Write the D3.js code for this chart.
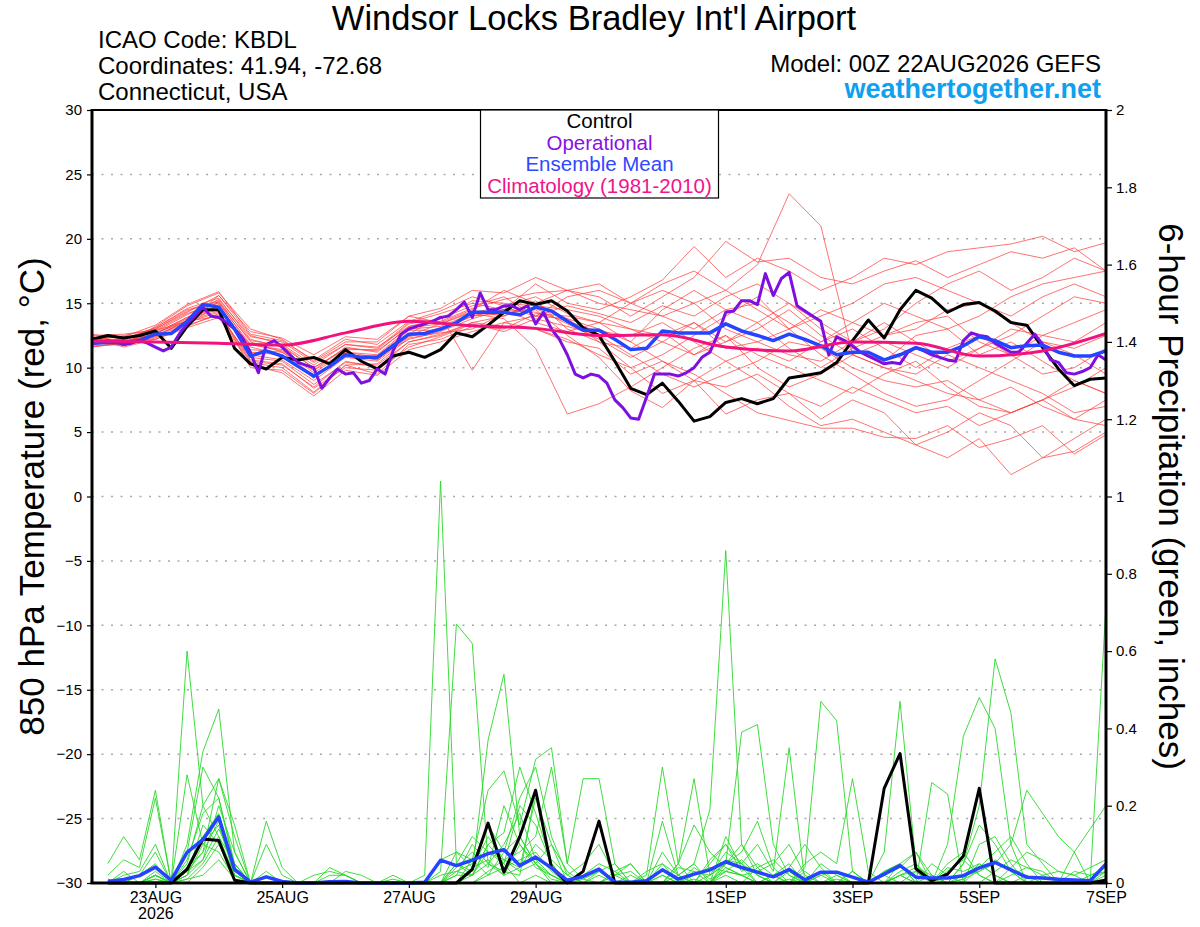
<!DOCTYPE html>
<html lang="en">
<head>
<meta charset="utf-8">
<title>Windsor Locks Bradley Int'l Airport</title>
<script src="https://cdn.jsdelivr.net/npm/d3@7"></script>
<style>
  body { margin: 0; background: #fff; }
  svg { display: block; font-family: "Liberation Sans", Arial, Helvetica, sans-serif; }
</style>
</head>
<body>
<svg id="chart" width="1200" height="927"></svg>
<script>
// --- data -------------------------------------------------------------
// 850 hPa temperature (deg C), 6-hourly from 00Z 22AUG2026
const tempCtrl = [12.2,12.5,12.3,12.5,12.85,11.5,13.2,14.5,14.5,11.5,
  10.3,9.9,10.8,10.6,10.8,10.3,11.4,10.5,9.9,10.9,
  11.2,10.8,11.4,12.7,12.4,13.3,14.3,15.2,14.9,15.2,
  14.4,13.1,12.5,10.5,8.4,7.9,8.8,7.4,5.85,6.2,
  7.3,7.6,7.2,7.6,9.2,9.4,9.6,10.4,12.1,13.7,
  12.3,14.5,16.0,15.4,14.3,14.9,15.05,14.4,13.5,13.3,
  11.55,9.9,8.6,9.1,9.2];

const tempMean = [11.9,11.95,11.95,12.1,12.6,12.65,13.6,14.9,14.7,13.0,
  10.9,11.3,10.9,10.1,9.35,10.1,11.0,10.8,10.8,11.7,
  12.6,12.65,13.0,13.5,14.3,14.3,14.3,14.1,14.7,14.4,
  13.6,12.9,12.9,12.2,11.4,11.5,12.85,12.7,12.7,12.7,
  13.4,12.85,12.5,12.1,12.6,12.2,11.7,11.0,11.2,11.2,
  10.6,11.0,11.55,11.2,11.2,11.7,12.4,12.1,11.55,11.7,
  11.75,11.2,10.9,10.9,11.3];

// operational run, 3-hourly
const tempOper = [11.9,12.0,12.1,12.0,11.8,11.9,12.1,11.9,11.6,11.3,
  11.6,12.6,13.4,14.0,14.7,14.0,13.9,13.5,13.0,12.3,
  11.2,9.6,11.8,12.1,11.6,11.0,10.4,10.2,10.0,8.4,
  9.2,9.9,9.5,9.6,8.8,9.0,9.9,9.5,11.3,12.6,
  13.0,13.2,13.4,13.6,13.9,14.0,14.5,15.1,13.9,15.8,
  14.5,14.5,14.8,14.8,14.5,14.8,13.4,14.3,13.0,12.2,
  11.0,9.5,9.2,9.5,9.35,8.8,7.5,6.9,6.1,6.0,
  7.7,9.5,9.5,9.5,9.35,9.6,10.0,10.8,11.2,12.6,
  14.3,14.4,15.2,15.2,14.9,17.3,15.6,16.9,17.4,14.8,
  14.4,14.0,13.6,11.0,12.4,12.1,11.7,11.2,10.9,10.6,
  10.3,10.4,10.3,11.2,11.55,11.3,11.0,10.8,10.6,10.5,
  12.1,12.7,12.5,12.4,11.9,11.55,11.2,11.2,11.9,12.6,
  11.8,10.6,10.4,9.6,9.5,9.7,10.0,11.0,10.6];

// climatology (1981-2010), daily
const tempClim = [12.07,12.0,11.9,11.75,12.7,13.6,13.25,13.05,12.5,12.55,11.6,11.3,12.0,11.9,10.9,11.3,12.65];

// ensemble members, 12-hourly
const tempMembers = [
  [12.3,12.1,13.0,14.4,15.2,12.0,11.2,9.8,11.6,11.2,13.2,13.8,14.8,15.5,14.0,15.5,16.0,15.0,16.5,17.5,16.0,18.0,23.5,21.0,11.0,10.0,9.0,8.0,7.5,8.5,7.0,6.0,7.5],
  [11.8,12.3,12.5,13.6,15.6,12.5,11.8,10.2,11.8,11.5,13.5,14.2,15.0,14.5,16.5,15.0,14.5,15.5,16.8,19.4,17.0,18.5,17.5,16.0,17.0,18.5,18.0,19.0,19.3,19.6,20.2,19.0,19.7],
  [12.0,11.8,13.2,14.8,15.8,13.0,12.2,10.5,12.0,12.0,14.0,13.5,14.5,16.0,15.0,16.0,15.5,14.0,15.5,17.0,19.8,18.2,18.5,17.0,16.5,17.5,18.3,17.0,18.0,19.0,18.5,19.3,17.5],
  [12.4,11.6,12.2,13.2,14.2,10.5,10.2,8.5,10.5,10.0,12.0,12.5,13.5,14.0,15.2,13.0,12.0,10.0,8.0,9.0,10.5,9.0,7.0,5.5,6.0,5.0,4.0,3.0,4.5,1.7,3.0,3.5,5.0],
  [11.6,12.0,12.6,13.8,14.5,10.0,9.8,8.0,10.2,9.5,11.8,12.2,13.2,13.0,14.2,14.0,13.5,12.0,10.5,9.5,8.0,6.5,5.9,5.3,5.3,4.6,4.5,5.5,3.8,4.5,5.5,3.3,4.8],
  [12.2,12.4,12.4,13.4,14.8,11.0,10.6,9.0,10.8,10.5,12.4,13.0,14.0,14.2,14.5,12.5,10.8,8.2,6.9,9.0,6.4,7.5,8.0,6.0,7.5,6.5,4.0,5.0,6.5,5.5,3.0,4.5,6.0],
  [12.0,12.2,12.9,14.2,15.0,11.8,11.4,9.6,11.2,11.0,13.0,13.2,14.2,13.8,11.5,6.4,7.2,8.5,10.0,11.5,12.5,11.0,10.0,9.0,8.0,9.5,10.5,8.5,7.0,6.5,7.5,9.0,8.0],
  [11.9,11.9,12.7,13.9,14.6,11.2,11.0,9.2,11.0,10.6,12.6,14.0,9.8,13.5,14.0,13.8,13.0,12.0,14.5,16.0,14.5,13.5,15.0,13.0,11.5,12.5,13.5,14.0,12.0,11.0,12.5,13.5,14.5],
  [12.1,12.2,13.1,14.6,15.4,12.2,11.6,10.0,11.4,11.4,13.4,13.8,15.2,15.0,14.8,14.5,14.0,13.0,12.0,11.0,12.0,13.0,14.5,12.5,11.0,10.0,9.5,11.0,10.0,9.0,8.0,6.5,7.0],
  [12.5,12.6,12.9,13.6,14.4,11.8,11.3,9.8,11.2,10.8,12.2,12.8,13.8,14.5,13.5,12.8,13.5,15.0,16.0,15.0,13.0,12.0,11.0,10.5,12.0,13.5,12.0,10.5,11.5,12.5,14.0,15.5,15.0],
  [11.7,11.8,12.3,13.3,14.1,10.8,10.5,8.7,10.4,10.2,12.0,12.6,13.5,13.2,13.0,12.2,11.0,10.0,11.0,12.5,14.0,15.5,13.0,11.0,9.5,8.0,7.0,7.5,9.0,10.5,12.0,11.0,9.5],
  [12.2,12.0,12.8,14.1,15.3,12.4,12.0,10.4,11.8,11.6,13.2,13.6,14.6,15.3,15.8,16.0,15.0,14.5,14.0,15.0,16.0,14.5,13.0,14.0,15.0,16.5,17.0,16.0,15.0,14.0,15.5,16.5,15.5],
  [11.8,12.1,12.5,13.5,14.3,10.6,10.3,8.4,10.0,9.8,11.6,12.4,13.4,12.8,13.8,13.2,12.5,11.0,9.5,8.5,9.5,10.5,12.0,11.5,10.0,9.0,8.5,9.0,7.5,6.5,7.5,8.5,10.0],
  [12.3,12.4,13.3,14.9,15.9,12.6,12.1,10.6,12.2,11.8,13.6,14.4,15.5,14.8,15.5,14.2,13.5,13.0,12.5,13.5,11.5,12.0,13.0,14.5,13.5,12.5,13.0,14.5,15.0,13.5,12.0,11.5,12.5],
  [12.0,11.7,12.4,13.7,14.9,11.4,11.2,9.4,10.9,10.9,12.9,12.9,14.0,14.5,14.3,13.6,12.8,12.5,13.5,12.0,10.5,11.5,10.5,12.0,13.0,11.5,10.0,11.5,12.5,11.0,9.5,10.0,11.5],
  [11.6,11.9,12.6,13.9,15.1,11.6,11.0,9.2,11.1,10.6,12.5,13.4,14.4,14.0,15.0,13.8,12.0,11.5,12.8,11.0,12.5,10.0,8.5,9.5,11.0,12.0,11.0,10.0,11.5,13.0,12.5,12.0,13.5],
  [12.4,12.3,12.7,13.6,14.0,10.4,10.0,8.1,10.2,10.3,12.3,12.7,13.0,14.2,14.6,13.4,12.2,10.8,12.0,13.5,12.0,13.5,11.5,10.0,11.5,10.5,12.5,13.0,11.0,12.0,10.5,9.0,8.0],
  [12.1,12.5,13.0,14.3,15.6,12.8,12.3,11.0,12.4,12.2,14.0,14.6,16.0,15.8,17.0,16.0,16.5,15.0,14.0,13.0,14.5,15.0,13.5,12.0,13.5,15.0,14.0,13.0,14.0,15.5,16.5,17.0,17.5],
  [11.8,12.0,12.2,13.1,13.9,10.2,9.6,7.8,9.8,9.4,11.4,12.0,12.8,13.5,13.0,12.0,11.5,9.5,10.5,9.0,8.5,9.5,8.0,7.0,8.5,7.5,6.5,7.0,5.5,6.5,7.5,6.0,5.5],
  [12.6,12.2,13.1,14.5,15.1,12.1,11.7,10.0,11.5,11.3,13.1,13.4,14.3,14.7,14.0,14.8,14.2,13.5,14.8,14.0,15.5,16.5,15.0,13.5,12.0,13.0,15.0,16.5,17.5,16.0,17.0,18.5,17.5]
];

// 6-hour precipitation (inches), periods ending 06Z 22AUG .. 00Z 07SEP
const precipCtrl = [0,0,0,0,0,.035,.114,.11, .007,0,0,0,0,0,0,0,
  0,0,0,0,0,0,0,.035, .155,.028,.12,.24,.04,0,.03,.16,
  0,0,0,0,0,0,0,0, 0,0,0,0,0,0,0,0,
  0,.245,.335,.037,.006,.023,.07,.245, 0,0,0,0,0,0,0,.008];

const precipMean = [.004,.009,.019,.041,.007,.079,.112,.171, .035,.002,.016,.004,0,0,.003,.004,
  0,0,0,0,.002,.059,.045,.059, .076,.086,.045,.067,.039,.007,.017,.036,
  .002,.002,.006,.034,.01,.023,.034,.055, .04,.028,.016,.035,.008,.028,.028,.015,
  .002,.023,.045,.015,.013,.013,.019,.039, .053,.034,.015,.013,.01,.008,.006,.049];

const precipMembers = [
  [.05,.12,.06,.24,0,.28,.10,.15, .02,0,.16,.04,0,0,0,0, 0,0,0,0,.02,1.04,.05,.02, .10,.05,0,.02,0,0,.01,.03, 0,0,0,0,.02,.05,0,.04, .02,0,0,.01,0,0,0,.03, 0,0,.02,0,0,0,.01,.05, .02,0,0,0,0,0,.01,.03],
  [0,.02,.03,.10,0,.60,.20,.12, .05,0,0,0,0,0,.04,.02, 0,0,0,0,0,.03,.67,.62, .05,.02,.10,.05,.01,0,0,.02, 0,0,.02,.30,.05,0,.06,.10, .05,.02,0,.03,0,.05,.02,0, 0,.03,.05,0,.02,0,0,.04, .08,.12,.05,0,0,0,0,.02],
  [.02,.06,.04,.22,0,.10,.34,.45, .08,0,.10,.02,0,0,0,0, 0,0,.02,0,0,0,.05,.03, .37,.54,.12,.05,0,0,0,0, 0,0,0,.16,.02,.05,.19,.86, .10,.02,0,0,.03,0,0,0, 0,0,0,0,0,.04,.03,.05, .02,0,0,0,0,.08,0,.05],
  [0,0,.02,.08,0,.05,.20,.27, .15,0,0,0,0,0,0,.03, .02,0,0,0,0,.06,.08,.06, .24,.29,.15,.32,.35,.05,.27,.27, .05,0,0,0,.05,.27,.02,.05, .39,.41,.10,.02,0,0,0,.03, 0,0,.02,0,.05,.02,0,0, 0,.02,.04,.03,0,0,0,0],
  [0,0,0,.03,0,.08,.30,.22, .05,0,0,0,0,0,0,0, 0,0,0,0,0,0,.03,.05, .15,.08,.22,.30,.12,.02,0,0, .02,.05,0,0,0,0,0,.06, .05,.10,.03,.35,0,.02,0,0, 0,.08,.47,.05,0,0,.05,.20, .58,.44,.10,.05,0,.03,.02,.03],
  [.01,0,.02,.05,0,.03,.08,.27, .12,0,.03,0,0,0,0,0, 0,0,0,0,0,0,.02,.10, .05,.03,.02,.24,.05,0,0,.03, .05,0,0,.02,0,0,.05,.10, .03,.05,.02,0,.04,.47,.42,.03, 0,0,0,0,.26,.23,0,0, 0,.04,.08,.06,.03,.02,.04,.06],
  [0,.03,0,.02,0,.04,.12,.18, .03,0,0,0,0,.02,.03,.02, 0,0,0,0,0,0,.05,.12, .08,.05,.20,.15,.05,0,0,0, 0,.02,0,.05,0,0,0,.02, 0,.04,.06,.02,0,.03,0,0, 0,0,.02,.03,0,0,.02,.03, .05,.10,.24,.18,.12,.08,.14,.20],
  [0,0,0,.02,0,.02,.15,.10, .02,0,0,0,0,0,0,0, 0,0,0,0,0,0,0,.04, .12,.06,.03,.05,.02,0,.02,.05, .03,0,0,0,.05,.15,.08,.04, .02,0,.02,.05,0,0,.02,0, 0,0,0,0,0,0,0,0, 0,0,0,.02,.03,.02,0,.72],
  [0,0,0,.01,0,.06,.18,.22, .04,0,0,0,0,0,0,0, 0,0,0,0,0,.02,.03,.02, .10,.13,.30,.18,.05,0,0,0, .02,.03,0,0,0,.02,.04,.03, .02,.03,.05,.10,.02,0,0,0, 0,.03,.05,0,0,.10,.38,.48, .40,.10,0,0,0,0,.02,.04],
  [0,0,0,.02,0,.01,.05,.12, .02,0,0,0,0,0,0,0, 0,0,0,0,0,0,0,0, .03,.06,.08,.12,.30,.05,.01,0, 0,0,0,0,0,0,0,.05, .08,.16,.04,0,0,0,0,0, 0,.02,.04,.08,0,.03,.06,.02, 0,0,0,0,0,0,0,.03],
  [0,0,0,0,0,.02,.10,.08, .01,0,0,0,0,0,.02,.02, 0,0,.01,0,0,0,.08,.04, .06,.02,.04,.10,.06,.02,.05,.10, .02,0,0,.08,.02,0,.02,.05, .10,.04,0,0,.05,.08,.05,.27, .03,0,.05,.08,.02,0,0,.10, .12,.05,0,0,0,0,0,0],
  [0,0,0,.02,0,.03,.06,.20, .08,0,0,0,0,0,0,0, 0,0,0,0,0,0,0,.06, .02,.08,.12,.05,.10,.03,0,0, 0,0,0,0,.04,.03,.02,.08, .05,0,0,.04,.10,.04,0,0, 0,0,0,0,0,0,0,0, .03,.06,.04,.02,0,0,0,0],
  [0,0,0,0,0,.04,.08,.16, .02,0,0,0,0,0,0,0, 0,0,0,0,0,0,.02,.02, .05,.10,.18,.06,.02,0,0,0, .03,.05,0,.02,0,.03,0,.12, .04,0,.02,0,0,0,0,0, 0,0,0,.03,0,0,.05,.15, .10,.03,0,0,0,0,0,0],
  [0,0,0,.02,0,0,.04,.10, .03,0,0,0,0,0,0,0, 0,0,0,0,0,0,0,0, .02,.04,.06,.08,.03,0,0,0, 0,0,.03,.05,.02,0,0,.03, .02,0,0,0,0,0,0,0, 0,0,.02,.04,.02,0,.01,.03, .06,.03,0,0,0,0,0,0],
  [0,0,0,.01,0,.02,.06,.14, .05,0,0,0,0,0,0,0, 0,0,0,0,0,0,.04,.08, .04,.20,.10,.04,.02,0,0,0, 0,0,0,0,0,.04,.01,.03, .06,.02,0,0,0,0,.01,0, 0,0,.03,.05,.01,0,0,0, 0,0,.02,0,0,0,0,0],
  [0,0,0,0,0,.01,.02,.06, .01,0,0,0,0,0,0,0, 0,0,0,0,0,0,0,.02, .08,.06,.04,.22,.10,0,0,0, 0,0,0,0,0,.01,0,0, 0,0,0,0,0,.02,.03,0, 0,.02,0,0,0,.05,.08,.02, 0,0,0,0,0,0,0,0]
];

const dateTicks = ['2026-08-23','2026-08-25','2026-08-27','2026-08-29','2026-09-01','2026-09-03','2026-09-05','2026-09-07'];
const tempTicks = d3.range(-30, 31, 5);
const precipTicks = [0,0.2,0.4,0.6,0.8,1,1.2,1.4,1.6,1.8,2];
const legendItems = [
  {label: 'Control', color: '#000000'},
  {label: 'Operational', color: '#8a10e6'},
  {label: 'Ensemble Mean', color: '#3048ff'},
  {label: 'Climatology (1981-2010)', color: '#f0148c'}
];

// --- chart ------------------------------------------------------------
const svg = d3.select('#chart');
const plot = {left: 92, right: 1106, top: 110, bottom: 883};
const HOUR = 36e5;
const t0 = Date.UTC(2026, 7, 22);

const x = d3.scaleUtc().domain([new Date(t0), new Date(t0 + 384 * HOUR)]).range([plot.left, plot.right]);
const yT = d3.scaleLinear().domain([-30, 30]).range([plot.bottom, plot.top]);
const yP = d3.scaleLinear().domain([0, 2]).range([plot.bottom, plot.top]);

// values -> {t, v}, step and first offset in hours
const timed = (vals, step, first) => vals.map((v, i) => ({t: new Date(t0 + (first + i * step) * HOUR), v}));

const lineT = d3.line().x(d => x(d.t)).y(d => yT(d.v));
const lineP = d3.line().x(d => x(d.t)).y(d => yP(d.v));
const lineClim = d3.line().x(d => x(d.t)).y(d => yT(d.v)).curve(d3.curveMonotoneX);

svg.append('defs').append('clipPath').attr('id', 'plotclip')
  .append('rect')
  .attr('x', plot.left).attr('y', plot.top)
  .attr('width', plot.right - plot.left).attr('height', plot.bottom - plot.top + 3);

// gridlines
svg.append('g')
  .selectAll('line')
  .data(d3.range(-25, 26, 5))
  .join('line')
  .attr('x1', plot.left).attr('x2', plot.right)
  .attr('y1', d => yT(d)).attr('y2', d => yT(d))
  .attr('stroke', '#a8a8a8')
  .attr('stroke-width', 1.5)
  .attr('stroke-dasharray', '2,7.5');

const g = svg.append('g').attr('clip-path', 'url(#plotclip)');

g.selectAll('path.member')
  .data(tempMembers)
  .join('path')
  .attr('class', 'member')
  .attr('d', d => lineT(timed(d, 12, 0)))
  .attr('fill', 'none')
  .attr('stroke', '#ff3b3b')
  .attr('stroke-opacity', 0.8)
  .attr('stroke-width', 0.9);

g.selectAll('path.pmember')
  .data(precipMembers)
  .join('path')
  .attr('class', 'pmember')
  .attr('d', d => lineP(timed(d, 6, 6)))
  .attr('fill', 'none')
  .attr('stroke', '#2ad82a')
  .attr('stroke-width', 0.9);

const mainLines = [
  {d: lineT(timed(tempCtrl, 6, 0)), color: '#000000', w: 3},
  {d: lineP(timed(precipCtrl, 6, 6)), color: '#000000', w: 3},
  {d: lineT(timed(tempOper, 3, 0)), color: '#7f0fe0', w: 3},
  {d: lineT(timed(tempMean, 6, 0)), color: '#2444ff', w: 3.5},
  {d: lineP(timed(precipMean, 6, 6)), color: '#2444ff', w: 3.5},
  {d: lineClim(timed(tempClim, 24, 0)), color: '#f2127e', w: 3}
];

g.selectAll('path.main')
  .data(mainLines)
  .join('path')
  .attr('class', 'main')
  .attr('d', d => d.d)
  .attr('fill', 'none')
  .attr('stroke', d => d.color)
  .attr('stroke-width', d => d.w)
  .attr('stroke-linejoin', 'round');

// axes
const styleAxis = sel => {
  sel.select('.domain').remove();
  sel.selectAll('.tick line').attr('stroke', '#000').attr('stroke-width', 1.2);
  sel.selectAll('.tick text').attr('fill', '#000').attr('font-size', 15)
    .attr('font-family', '"Liberation Sans", Arial, sans-serif');
};

svg.append('g')
  .attr('transform', `translate(${plot.left},0)`)
  .call(d3.axisLeft(yT).tickValues(tempTicks).tickSize(5).tickPadding(5))
  .call(styleAxis);

svg.append('g')
  .attr('transform', `translate(${plot.right},0)`)
  .call(d3.axisRight(yP).tickValues(precipTicks).tickSize(6).tickPadding(4).tickFormat(d => String(+d.toFixed(1))))
  .call(styleAxis);

const bottom = svg.append('g')
  .attr('transform', `translate(0,${plot.bottom})`)
  .call(d3.axisBottom(x)
    .tickValues(dateTicks.map(s => new Date(s + 'T00:00:00Z')))
    .tickSize(5).tickPadding(4)
    .tickFormat(d => d3.utcFormat('%-d%b')(d).toUpperCase()))
  .call(styleAxis);
bottom.selectAll('.tick text').attr('font-size', 16);
bottom.select('.tick').append('text')
  .attr('y', 36).attr('fill', '#000').attr('font-size', 16)
  .attr('text-anchor', 'middle')
  .text('2026');

// frame
const frame = svg.append('g').attr('stroke', '#000').attr('fill', 'none');
frame.append('line').attr('x1', plot.left).attr('x2', plot.right).attr('y1', plot.top).attr('y2', plot.top).attr('stroke-width', 2);
frame.append('line').attr('x1', plot.left - 1.5).attr('x2', plot.right + 1.5).attr('y1', plot.bottom).attr('y2', plot.bottom).attr('stroke-width', 3);
frame.append('line').attr('x1', plot.left).attr('x2', plot.left).attr('y1', plot.top - 1).attr('y2', plot.bottom).attr('stroke-width', 3);
frame.append('line').attr('x1', plot.right).attr('x2', plot.right).attr('y1', plot.top - 1).attr('y2', plot.bottom).attr('stroke-width', 3);

// legend
const legend = svg.append('g');
legend.append('rect')
  .attr('x', 480.5).attr('y', 110).attr('width', 238).attr('height', 88)
  .attr('fill', '#fff').attr('stroke', '#000').attr('stroke-width', 1.2);
legend.selectAll('text')
  .data(legendItems)
  .join('text')
  .attr('x', 599.5)
  .attr('y', (d, i) => 128 + i * 21.5)
  .attr('text-anchor', 'middle')
  .attr('font-size', 20.5)
  .attr('fill', d => d.color)
  .text(d => d.label);

// titles
svg.append('text').attr('x', 594).attr('y', 30).attr('text-anchor', 'middle')
  .attr('font-size', 34.5).text("Windsor Locks Bradley Int'l Airport");

const info = ['ICAO Code: KBDL', 'Coordinates: 41.94, -72.68', 'Connecticut, USA'];
svg.append('g').selectAll('text').data(info).join('text')
  .attr('x', 98).attr('y', (d, i) => 48 + i * 26)
  .attr('font-size', 24).text(d => d);

svg.append('text').attr('x', 1101).attr('y', 72).attr('text-anchor', 'end')
  .attr('font-size', 24).text('Model: 00Z 22AUG2026 GEFS');
svg.append('text').attr('x', 1101).attr('y', 98).attr('text-anchor', 'end')
  .attr('font-size', 27).attr('font-weight', 'bold').attr('fill', '#0fa0f0')
  .text('weathertogether.net');

svg.append('text')
  .attr('transform', `translate(44,${(plot.top + plot.bottom) / 2}) rotate(-90)`)
  .attr('text-anchor', 'middle').attr('font-size', 35)
  .text('850 hPa Temperature (red, °C)');

svg.append('text')
  .attr('transform', `translate(1159,${(plot.top + plot.bottom) / 2}) rotate(90)`)
  .attr('text-anchor', 'middle').attr('font-size', 35)
  .text('6-hour Precipitation (green, inches)');
</script>
</body>
</html>
